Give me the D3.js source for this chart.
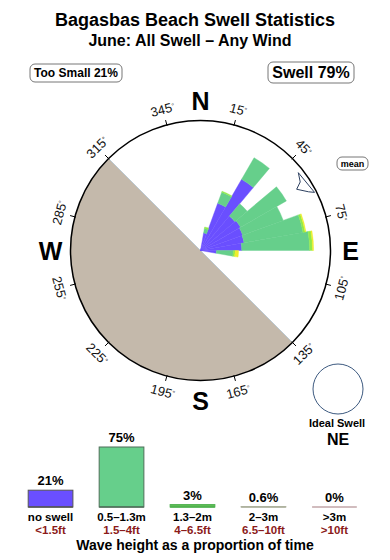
<!DOCTYPE html>
<html>
<head>
<meta charset="utf-8">
<script src="https://cdnjs.cloudflare.com/ajax/libs/d3/7.8.5/d3.min.js"></script>
<style>
body{margin:0;background:#fff;}
svg{display:block;font-family:'Liberation Sans',Arial,sans-serif;}
</style>
</head>
<body>
<div class="chartWrap"></div>
<script>
var width = 390,
  height = 560,
  cx = 200.5,
  cy = 250.5,
  radius = 130,
  binWidth = 10;

// swell rose: bin centres (deg) and % of time per wave height class
var directions = [15, 25, 35, 45, 55, 65, 75, 85, 95];
var noSwell   = [0.5, 4.0, 10.7, 3.2, 3.4, 3.2, 3.1, 2.7, 0.4];
var waveSmall = [0.3, 2.1, 7.5, 2.7, 12.2, 9.1, 14.1, 16.2, 1.3];
var waveMid   = [0.1, 0.2, 0, 0, 0, 0, 0.7, 1.0, 0.2];
var waveBig   = [0, 0, 0, 0, 0, 0, 0.3, 0.4, 0.4];
var waveHuge  = [0, 0, 0, 0, 0, 0, 0, 0, 0];

var tickAngles = [15, 45, 75, 105, 135, 165, 195, 225, 255, 285, 315, 345];
var cardinals = ['N', 'E', 'S', 'W'];
var cardinalAngles = [0, 90, 180, 270];
var landFrom = 135, landTo = 315;
var meanDirection = 57;
var idealSwell = 'NE';

// wave height bars
var heightClasses = ['no swell', '0.5\u20131.3m', '1.3\u20132m', '2\u20133m', '>3m'];
var heightFeet = ['<1.5ft', '1.5\u20134ft', '4\u20136.5ft', '6.5\u201310ft', '>10ft'];
var heightShare = [21, 75, 3, 0.6, 0];
var shareLabels = ['21%', '75%', '3%', '0.6%', '0%'];

var classKeys = ['noSwell', 'small', 'mid', 'big', 'huge'],
  roseColors = ['#6a4fff', '#66cf8b', '#8fea4a', '#eeee2a', '#ee6644'],
  barFill = ['#6a4fff', '#66cf8b', '#5fbf55', '#d4d8c0', '#d8b8b8'],
  barStroke = ['#555', '#4f6f5a', '#4fb04f', '#aeb29e', '#c2a6a8'];

var rad = function(deg){ return deg * Math.PI / 180; };

var svg = d3.select('.chartWrap')
  .append('svg')
  .attr('width', width)
  .attr('height', height);

//titles
svg.append('text')
  .attr('x', 195).attr('y', 26)
  .attr('text-anchor', 'middle')
  .style('font-size', '18px').style('font-weight', 'bold')
  .text('Bagasbas Beach Swell Statistics');
svg.append('text')
  .attr('x', 190).attr('y', 46)
  .attr('text-anchor', 'middle')
  .style('font-size', '16px').style('font-weight', 'bold')
  .text('June: All Swell \u2013 Any Wind');

//summary boxes
var boxes = [
  {text: 'Too Small ' + shareLabels[0], x: 30, y: 64, w: 92, h: 18, size: 12},
  {text: 'Swell ' + (100 - heightShare[0]) + '%', x: 268, y: 62, w: 86, h: 21, size: 16},
  {text: 'mean', x: 337, y: 157, w: 31, h: 13, size: 9}
];
var box = svg.selectAll('.box').data(boxes).enter().append('g').attr('class', 'box');
box.append('rect')
  .attr('x', function(d){ return d.x; })
  .attr('y', function(d){ return d.y; })
  .attr('width', function(d){ return d.w; })
  .attr('height', function(d){ return d.h; })
  .attr('rx', 5).attr('ry', 5)
  .style('fill', '#fff').style('stroke', '#777').style('stroke-width', 1);
box.append('text')
  .attr('x', function(d){ return d.x + d.w / 2; })
  .attr('y', function(d){ return d.y + d.h / 2; })
  .attr('dy', '0.36em')
  .attr('text-anchor', 'middle')
  .style('font-size', function(d){ return d.size + 'px'; })
  .style('font-weight', 'bold')
  .text(function(d){ return d.text; });

var rose = svg.append('g').attr('transform', 'translate(' + cx + ',' + cy + ')');

//land half
rose.append('path')
  .attr('d', d3.arc()({innerRadius: 0, outerRadius: radius, startAngle: rad(landFrom), endAngle: rad(landTo)}))
  .style('fill', '#c4b9ab');
var l0 = d3.pointRadial(rad(landFrom), radius), l1 = d3.pointRadial(rad(landTo), radius);
rose.append('line')
  .attr('x1', l0[0]).attr('y1', l0[1]).attr('x2', l1[0]).attr('y2', l1[1])
  .style('stroke', '#bccad3').style('stroke-width', 1);

//rose wedges
var table = directions.map(function(d, i){
  return {dir: d, noSwell: noSwell[i], small: waveSmall[i], mid: waveMid[i], big: waveBig[i], huge: waveHuge[i]};
});
var stacked = d3.stack().keys(classKeys)(table);
var r = d3.scaleSqrt().domain([0, 26.8]).range([0, radius]);
var arc = d3.arc();

rose.selectAll('.layer')
  .data(stacked)
  .enter().append('g')
    .attr('class', 'layer')
    .style('fill', function(d, i){ return roseColors[i]; })
    .style('stroke', function(d, i){ return roseColors[i]; })
    .style('stroke-width', 0.4)
  .selectAll('path')
  .data(function(d){ return d.filter(function(p){ return p[1] > p[0]; }); })
  .enter().append('path')
    .attr('d', function(p){
      return arc({
        innerRadius: r(p[0]),
        outerRadius: r(p[1]),
        startAngle: rad(p.data.dir - binWidth / 2),
        endAngle: rad(p.data.dir + binWidth / 2)
      });
    });

//outer ring and ticks
rose.append('circle')
  .attr('r', radius)
  .style('fill', 'none').style('stroke', '#000').style('stroke-width', 1.5);

rose.selectAll('.tick')
  .data(tickAngles)
  .enter().append('line')
    .attr('class', 'tick')
    .attr('x1', function(d){ return d3.pointRadial(rad(d), radius - 1)[0]; })
    .attr('y1', function(d){ return d3.pointRadial(rad(d), radius - 1)[1]; })
    .attr('x2', function(d){ return d3.pointRadial(rad(d), radius + 5)[0]; })
    .attr('y2', function(d){ return d3.pointRadial(rad(d), radius + 5)[1]; })
    .style('stroke', '#000').style('stroke-width', 1);

var deg = rose.selectAll('.degLabel')
  .data(tickAngles)
  .enter().append('text')
    .attr('class', 'degLabel')
    .attr('transform', function(d){
      var p = d3.pointRadial(rad(d), 146),
        rot = d <= 90 ? d : (d < 270 ? d - 180 : d - 360);
      return 'translate(' + p[0] + ',' + p[1] + ') rotate(' + rot + ')';
    })
    .attr('text-anchor', 'middle')
    .attr('dy', '0.35em')
    .style('font-size', '13px')
    .style('fill', '#111');
deg.append('tspan').text(function(d){ return d; });
deg.append('tspan').attr('dy', '-0.45em').style('font-size', '7px').text('\u00b0');

rose.selectAll('.cardinal')
  .data(cardinals)
  .enter().append('text')
    .attr('class', 'cardinal')
    .attr('x', function(d, i){ return d3.pointRadial(rad(cardinalAngles[i]), 150)[0]; })
    .attr('y', function(d, i){ return d3.pointRadial(rad(cardinalAngles[i]), 150)[1]; })
    .attr('dy', '0.36em')
    .attr('text-anchor', 'middle')
    .style('font-size', '25px')
    .style('font-weight', 'bold')
    .text(function(d){ return d; });

//mean direction marker
var meanShape = [[-5.5, 125], [6, 128], [4.5, 123], [0.5, 114], [-1.5, 121]];
rose.append('path')
  .attr('d', d3.line()(meanShape.map(function(p){ return d3.pointRadial(rad(meanDirection + p[0]), p[1]); })) + 'Z')
  .style('fill', '#fff').style('stroke', '#2d4060').style('stroke-width', 1);

//ideal swell
svg.append('circle')
  .attr('cx', 338).attr('cy', 389).attr('r', 25)
  .style('fill', '#fff').style('stroke', '#3d5a80').style('stroke-width', 1);
svg.append('text')
  .attr('x', 337).attr('y', 427).attr('text-anchor', 'middle')
  .style('font-size', '11px').style('font-weight', 'bold')
  .text('Ideal Swell');
svg.append('text')
  .attr('x', 338).attr('y', 445).attr('text-anchor', 'middle')
  .style('font-size', '16px').style('font-weight', 'bold')
  .text(idealSwell);

//wave height bars
var x = d3.scaleBand()
  .domain(heightClasses)
  .range([14, 371])
  .paddingInner(0.37)
  .paddingOuter(0.2);
var y = d3.scaleLinear().domain([0, 100]).range([507, 427]);

var bar = svg.selectAll('.bar')
  .data(heightClasses)
  .enter().append('g')
    .attr('class', 'bar');

bar.append('rect')
  .attr('x', function(d){ return x(d); })
  .attr('y', function(d, i){ return y(heightShare[i]); })
  .attr('width', x.bandwidth())
  .attr('height', function(d, i){ return y(0) - y(heightShare[i]); })
  .style('fill', function(d, i){ return barFill[i]; })
  .style('stroke', function(d, i){ return barStroke[i]; })
  .style('stroke-width', 1);

//base line so empty classes still show
bar.append('line')
  .attr('x1', function(d){ return x(d); })
  .attr('x2', function(d){ return x(d) + x.bandwidth(); })
  .attr('y1', y(0)).attr('y2', y(0))
  .style('stroke', function(d, i){ return barStroke[i]; })
  .style('stroke-width', 1.5);

bar.append('text')
  .attr('x', function(d){ return x(d) + x.bandwidth() / 2; })
  .attr('y', function(d, i){ return y(heightShare[i]) - 5; })
  .attr('text-anchor', 'middle')
  .style('font-size', '13px').style('font-weight', 'bold')
  .text(function(d, i){ return shareLabels[i]; });

bar.append('text')
  .attr('x', function(d){ return x(d) + x.bandwidth() / 2; })
  .attr('y', 521)
  .attr('text-anchor', 'middle')
  .style('font-size', '11.5px').style('font-weight', 'bold')
  .text(function(d){ return d; });

bar.append('text')
  .attr('x', function(d){ return x(d) + x.bandwidth() / 2; })
  .attr('y', 533.5)
  .attr('text-anchor', 'middle')
  .style('font-size', '11.5px').style('font-weight', 'bold')
  .style('fill', '#8b1a1a')
  .text(function(d, i){ return heightFeet[i]; });

svg.append('text')
  .attr('x', 195).attr('y', 550)
  .attr('text-anchor', 'middle')
  .style('font-size', '14px').style('font-weight', 'bold')
  .text('Wave height as a proportion of time');
</script>
</body>
</html>
